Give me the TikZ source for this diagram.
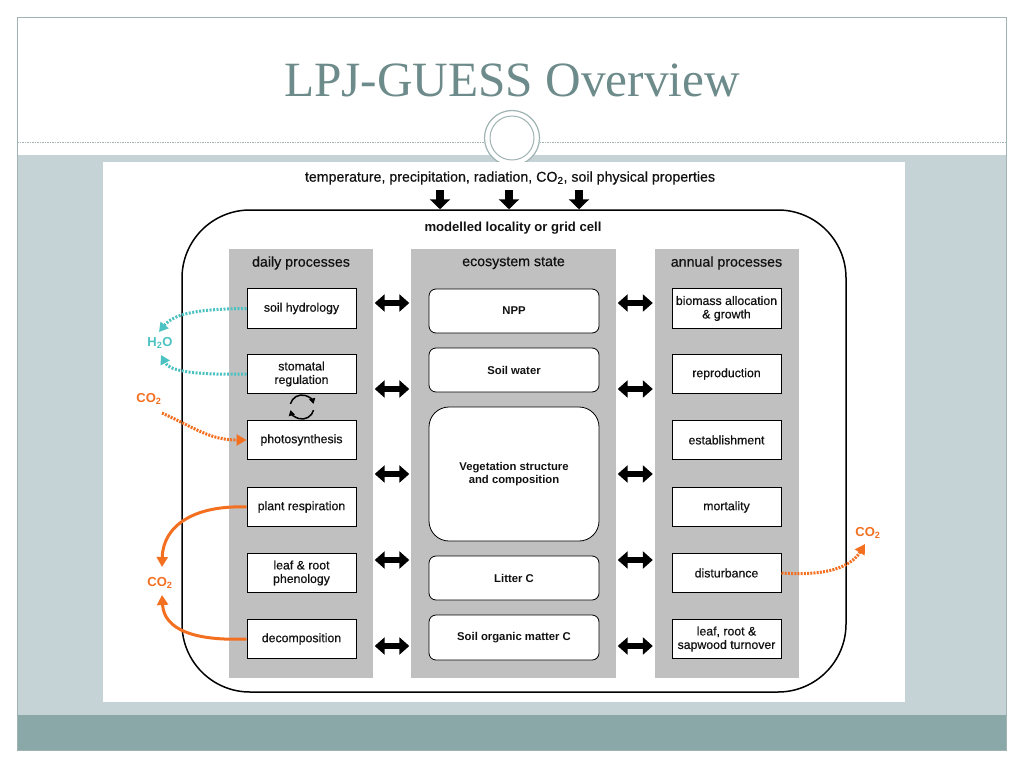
\documentclass[tikz,border=0pt]{standalone}
\usepackage{fontspec}
\setmainfont{Liberation Sans}
\newfontfamily\medfont[FakeBold=0.5]{Liberation Sans}
\newfontfamily\titlefont{Liberation Serif}
\usetikzlibrary{arrows.meta}
\definecolor{slidebg}{HTML}{C5D3D6}
\definecolor{slidebar}{HTML}{8AA8A8}
\definecolor{titlecol}{HTML}{6D8B8A}
\definecolor{framecol}{HTML}{9FB3B3}
\definecolor{panelgray}{HTML}{C0C0C0}
\definecolor{co2orange}{HTML}{F37021}
\definecolor{h2ocyan}{HTML}{4CC3C2}
\definecolor{textdark}{HTML}{111111}
\tikzset{
  panel/.style={fill=panelgray, draw=none, minimum height=429pt, inner sep=0pt},
  procbox/.style={draw=black, line width=1pt, fill=white, minimum width=109pt, minimum height=39.5pt,
    align=center, font=\medfont\fontsize{12.3}{13.5}\selectfont, text=textdark, inner sep=1pt},
  statebox/.style={draw=black, line width=0.8pt, fill=white, rounded corners=7pt, minimum width=170pt,
    align=center, font=\bfseries\fontsize{11.3}{13}\selectfont, text=textdark, inner sep=1pt},
  header/.style={font=\medfont\fontsize{14.2}{16}\selectfont, text=textdark, inner sep=1pt},
  dblarrow/.style={line width=5.5pt, shorten <=1.5pt, shorten >=1.5pt,
    {Triangle[length=10pt,width=17pt]}-{Triangle[length=10pt,width=17pt]}},
  downarrow/.style={line width=8pt, -{Triangle[length=10pt,width=20pt]}},
  co2label/.style={font=\bfseries\fontsize{13}{15}\selectfont, text=co2orange, inner sep=1pt},
  h2olabel/.style={font=\bfseries\fontsize{13}{15}\selectfont, text=h2ocyan, inner sep=1pt},
  co2solid/.style={draw=co2orange, line width=3pt, -{Triangle[length=10pt,width=11pt]}},
  co2dot/.style={draw=co2orange, line width=3pt, dash pattern=on 2pt off 1.2pt, -{Triangle[length=10pt,width=11pt]}},
  waterflow/.style={draw=h2ocyan, line width=3pt, dash pattern=on 2pt off 1.5pt, -{Triangle[length=9pt,width=10pt]}},
  cyclearrow/.style={draw=black, line width=1.5pt, -{Triangle[length=5.5pt,width=6pt]}},
}
\begin{document}
\begin{tikzpicture}[x=1pt,y=-1pt]
\useasboundingbox (0,0) rectangle (1024,768);
\fill[white] (0,0) rectangle (1024,768);
% slide background
\fill[slidebg] (17,155) rectangle (1006,715);
\fill[slidebar] (17,715) rectangle (1006,750);
\draw[framecol, line width=0.8pt] (17,17) rectangle (1006,750);
\draw[framecol, line width=0.8pt, dash pattern=on 1.5pt off 1pt] (17,142) -- (1006,142);
\node[circle, fill=white, draw=framecol, line width=1.2pt, minimum size=55pt, inner sep=0pt] (orn) at (512,138) {};
\node[circle, draw=framecol, line width=1pt, minimum size=44pt, inner sep=0pt] (orninner) at (512,138) {};
\node[anchor=base, font=\titlefont\fontsize{49.3}{55}\selectfont, text=titlecol] (title) at (512,96) {LPJ-GUESS Overview};
% figure area
\fill[white] (103,162) rectangle (905,702);

\node[font=\medfont\fontsize{14.2}{16}\selectfont, text=textdark, inner sep=1pt] (inputs) at (510,178)
  {temperature, precipitation, radiation, CO\textsubscript{2}, soil physical properties};

\node[draw=black, line width=1.5pt, rounded corners=68pt, minimum width=664pt, minimum height=482pt] (cell) at (514,451) {};

\coordinate (arrtop) at (0,190);
\draw[downarrow] (arrtop -| 440,0) -- (cell.north -| 440,0);
\draw[downarrow] (arrtop -| 509,0) -- (cell.north -| 509,0);
\draw[downarrow] (arrtop -| 579,0) -- (cell.north -| 579,0);

\node[font=\bfseries\fontsize{13.1}{15}\selectfont, text=textdark, inner sep=1pt] (celltitle) at (513,228) {modelled locality or grid cell};

% panels
\node[panel, minimum width=144pt] (daily) at (301,463.5) {};
\node[panel, minimum width=205pt] (eco) at (513.5,463.5) {};
\node[panel, minimum width=144pt] (annual) at (726.5,463.5) {};
\node[header] (dailyh) at (301,263) {daily processes};
\node[header] (ecoh) at (513.5,263) {ecosystem state};
\node[header] (annualh) at (726.5,263) {annual processes};

% daily boxes
\node[procbox] (soil) at (301.5,308.5) {soil hydrology};
\node[procbox] (stom) at (301.5,374) {stomatal\\regulation};
\node[procbox] (photo) at (301.5,440) {photosynthesis};
\node[procbox] (resp) at (301.5,507) {plant respiration};
\node[procbox] (phen) at (301.5,573) {leaf \& root\\phenology};
\node[procbox] (decomp) at (301.5,639) {decomposition};

% annual boxes
\node[procbox] (alloc) at (726.5,308.5) {biomass allocation\\\& growth};
\node[procbox] (repro) at (726.5,374) {reproduction};
\node[procbox] (estab) at (726.5,440) {establishment};
\node[procbox] (mort) at (726.5,507) {mortality};
\node[procbox] (disturb) at (726.5,573) {disturbance};
\node[procbox] (turn) at (726.5,639) {leaf, root \&\\sapwood turnover};

% state boxes
\node[statebox, minimum height=44pt] (npp) at (514,311) {NPP};
\node[statebox, minimum height=44pt] (sw) at (514,370) {Soil water};
\node[statebox, minimum height=134pt, rounded corners=20pt] (veg) at (514,474) {Vegetation structure\\and composition};
\node[statebox, minimum height=44pt] (litter) at (514,578) {Litter C};
\node[statebox, minimum height=45pt] (som) at (514,637.5) {Soil organic matter C};

% double arrows
\foreach \yy in {303,389,474,560,646}{
  \draw[dblarrow] (daily.east |- 0,\yy) -- (eco.west |- 0,\yy);
  \draw[dblarrow] (eco.east |- 0,\yy) -- (annual.west |- 0,\yy);
}

% cycle between stomatal regulation and photosynthesis
\coordinate (cyc) at (302,407);
\draw[cyclearrow] (cyc) ++(195:12) arc[start angle=195, end angle=345, radius=12];
\draw[cyclearrow] (cyc) ++(15:12) arc[start angle=15, end angle=165, radius=12];

% water fluxes
\node[h2olabel] (h2o) at (160,343) {H\textsubscript{2}O};
\coordinate (h2otop) at (159,332);
\coordinate (h2obot) at (161,355);
\draw[waterflow] (soil.west) .. controls (205,309) and (175,312) .. (h2otop);
\draw[waterflow] (stom.west) .. controls (200,375) and (170,372) .. (h2obot);

% carbon fluxes
\node[co2label] (co2a) at (149,399) {CO\textsubscript{2}};
\coordinate (co2astart) at (162,413);
\draw[co2dot] (co2astart) .. controls (195,428) and (210,440) .. (photo.west);

\node[co2label] (co2b) at (160,583) {CO\textsubscript{2}};
\coordinate (co2btop) at (162,567);
\coordinate (co2bbot) at (162,595);
\draw[co2solid] (resp.west) .. controls (195,505) and (163,525) .. (co2btop);
\draw[co2solid] (decomp.west) .. controls (195,641) and (164,630) .. (co2bbot);

\node[co2label] (co2c) at (868,533) {CO\textsubscript{2}};
\coordinate (co2ctip) at (865,544);
\draw[co2dot] (disturb.east) .. controls (825,576) and (850,568) .. (co2ctip);
\end{tikzpicture}
\end{document}
